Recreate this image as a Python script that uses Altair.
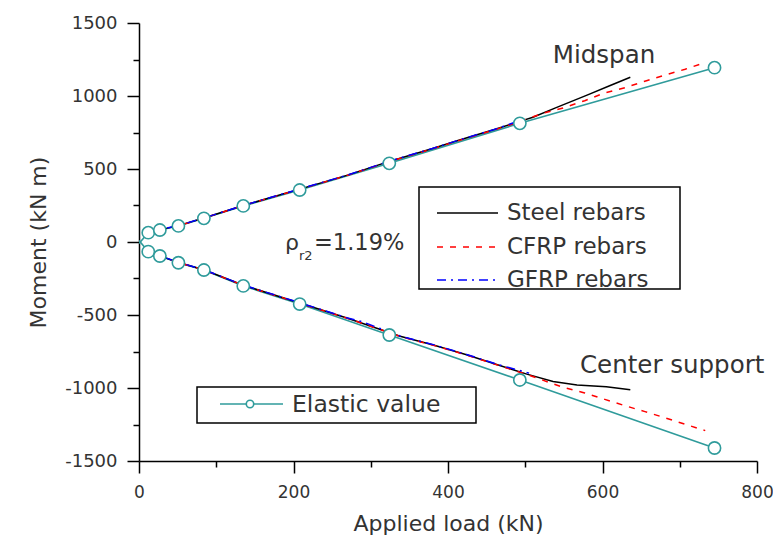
import altair as alt
import pandas as pd

# ---------------- data ----------------
# Midspan (positive moments); first point (load 0) has no marker
mid_elastic_load = [0, 12, 27, 51, 84, 135, 208, 324, 493, 745]
mid_elastic_mom = [-10, 64, 82, 110, 162, 247, 356, 539, 813, 1194]

mid_steel_load = [10, 27, 51, 84, 135, 208, 270, 324, 380, 416, 460, 493, 510, 540, 580, 610, 636]
mid_steel_mom = [60, 83, 112, 164, 250, 362, 458, 552, 640, 700, 770, 826, 854, 920, 1006, 1072, 1128]

mid_cfrp_load = [10, 27, 51, 84, 135, 208, 270, 324, 380, 416, 460, 493, 523, 549, 577, 601, 629, 657, 681, 707, 733]
mid_cfrp_mom = [60, 83, 112, 163, 250, 361, 457, 551, 639, 698, 768, 824, 882, 918, 968, 1018, 1057, 1105, 1144, 1183, 1230]

mid_gfrp_load = [10, 27, 51, 84, 135, 208, 270, 324, 380, 416, 460, 503]
mid_gfrp_mom = [61, 84, 113, 164, 251, 363, 459, 553, 641, 701, 771, 850]

# Center support (negative moments)
sup_elastic_load = [0, 12, 27, 51, 84, 135, 208, 324, 493, 745]
sup_elastic_mom = [10, -66, -96, -142, -192, -301, -425, -637, -945, -1411]

sup_steel_load = [10, 27, 51, 84, 135, 208, 270, 338, 381, 424, 467, 502, 536, 567, 605, 636]
sup_steel_mom = [-62, -95, -140, -190, -296, -418, -522, -645, -705, -772, -846, -905, -955, -979, -991, -1012]

sup_cfrp_load = [10, 27, 51, 84, 135, 208, 270, 338, 381, 424, 467, 502, 530, 549, 577, 603, 629, 655, 678, 705, 733]
sup_cfrp_mom = [-63, -95, -141, -191, -297, -419, -523, -647, -707, -774, -848, -907, -960, -995, -1034, -1078, -1121, -1162, -1199, -1245, -1292]

sup_gfrp_load = [10, 27, 51, 84, 135, 208, 270, 290, 338, 381, 424, 467, 505]
sup_gfrp_mom = [-62, -94, -139, -190, -295, -416, -520, -548, -644, -703, -770, -843, -898]

x_ticks = [0, 100, 200, 300, 400, 500, 600, 700, 800]
y_ticks = [-1500, -1250, -1000, -750, -500, -250, 0, 250, 500, 750, 1000, 1250, 1500]

# ---------------- build table ----------------
rows = []
def add(series, loc, loads, moms):
    for i, (l, m) in enumerate(zip(loads, moms)):
        rows.append({"series": series, "loc": loc, "load": l, "moment": m, "order": i})

add("Elastic", "mid", mid_elastic_load, mid_elastic_mom)
add("Elastic", "sup", sup_elastic_load, sup_elastic_mom)
add("Steel", "mid", mid_steel_load, mid_steel_mom)
add("Steel", "sup", sup_steel_load, sup_steel_mom)
add("CFRP", "mid", mid_cfrp_load, mid_cfrp_mom)
add("CFRP", "sup", sup_cfrp_load, sup_cfrp_mom)
add("GFRP", "mid", mid_gfrp_load, mid_gfrp_mom)
add("GFRP", "sup", sup_gfrp_load, sup_gfrp_mom)
df = pd.DataFrame(rows)

FONT = "DejaVu Sans"
TXT = "#333333"
TEAL = "#2f9b9b"

x_enc = alt.X(
    "load:Q",
    scale=alt.Scale(domain=[0, 800], nice=False, zero=False),
    axis=alt.Axis(
        title="Applied load (kN)",
        values=x_ticks,
        labelExpr="datum.value % 200 === 0 ? '' + datum.value : ''",
        tickSize={"condition": {"test": "datum.value % 200 === 0", "value": 12}, "value": 6},
        labelFlush=False,
        labelFontSize=17,
        labelPadding=11,
        titlePadding=13,
    ),
)
y_enc = alt.Y(
    "moment:Q",
    scale=alt.Scale(domain=[-1500, 1500], nice=False, zero=False),
    axis=alt.Axis(
        title="Moment (kN m)",
        values=y_ticks,
        labelExpr="datum.value % 500 === 0 ? '' + datum.value : ''",
        tickSize={"condition": {"test": "datum.value % 500 === 0", "value": 12}, "value": 6},
        labelFlush=False,
        labelPadding=10,
        titlePadding=14,
    ),
)

base = alt.Chart(df)

elastic_line = base.transform_filter("datum.series == 'Elastic'").mark_line(
    color=TEAL, strokeWidth=1.6, clip=True
).encode(x=x_enc, y=y_enc, detail="loc:N", order="order:Q")

def rebar(series, color, dash):
    kw = dict(color=color, strokeWidth=1.5)
    if dash:
        kw["strokeDash"] = dash
    return base.transform_filter(f"datum.series == '{series}'").mark_line(**kw).encode(
        x=x_enc, y=y_enc, detail="loc:N", order="order:Q"
    )

steel = rebar("Steel", "#000000", None)
cfrp = rebar("CFRP", "#ff0000", [6, 7])
gfrp = rebar("GFRP", "#0000ff", [9, 5, 2, 5])

elastic_pts = base.transform_filter("datum.series == 'Elastic' && datum.load > 0").mark_point(
    shape="circle", filled=True, fill="white", stroke=TEAL, strokeWidth=1.6, size=150, opacity=1
).encode(x=x_enc, y=y_enc)

one = alt.Data(values=[{}])
OX, OY = 139, 23  # plot-area origin in page pixels


def txt(text, x, y, size, align="left", baseline="middle"):
    return alt.Chart(one).mark_text(
        text=text, font=FONT, fontSize=size, color=TXT, align=align, baseline=baseline
    ).encode(x=alt.value(x - OX), y=alt.value(y - OY))


def box(x1, y1, x2, y2):
    return alt.Chart(one).mark_rect(fill="white", stroke="#000000", strokeWidth=1.5).encode(
        x=alt.value(x1 - OX), x2=alt.value(x2 - OX), y=alt.value(y1 - OY), y2=alt.value(y2 - OY)
    )


def seg(x1, x2, y, color, dash=None, width=1.5):
    kw = dict(color=color, strokeWidth=width)
    if dash:
        kw["strokeDash"] = dash
    return alt.Chart(one).mark_rule(**kw).encode(
        x=alt.value(x1 - OX), x2=alt.value(x2 - OX), y=alt.value(y - OY)
    )


ann = [
    txt("Midspan", 604, 56, 24.5, align="center"),
    txt("Center support", 580, 366, 24.5),
    txt("ρ", 285, 243, 22),
    txt("r2", 299, 256, 13),
    txt("=1.19%", 314, 243, 22.5),
]

leg1 = [
    box(419, 187, 680, 289),
    seg(437, 498, 213, "#000000"),
    seg(437, 498, 247, "#ff0000", [6, 7]),
    seg(437, 498, 280, "#0000ff", [9, 5, 2, 5]),
    txt("Steel rebars", 507, 213, 23),
    txt("CFRP rebars", 507, 247, 23),
    txt("GFRP rebars", 507, 280, 23),
]

leg2 = [
    box(197, 387, 476, 423),
    seg(220, 283, 404, TEAL, width=1.6),
    alt.Chart(one).mark_point(shape="circle", filled=True, fill="white", stroke=TEAL,
                              strokeWidth=1.6, size=55, opacity=1).encode(
        x=alt.value(250 - OX), y=alt.value(404 - OY)),
    txt("Elastic value", 292, 405, 23.5),
]

chart = alt.layer(
    elastic_line, steel, cfrp, gfrp, elastic_pts, *ann, *leg1, *leg2
).properties(
    width=618,
    height=438,
    autosize=alt.AutoSizeParams(type="none"),
    padding={"left": 139, "top": 23, "right": 16, "bottom": 84},
    background="white",
).configure_view(stroke=None).configure_axis(
    grid=False,
    domainColor="#000000",
    domainWidth=1.5,
    tickColor="#000000",
    tickWidth=1.5,
    labelFont=FONT,
    labelFontSize=18,
    labelColor=TXT,
    titleFont=FONT,
    titleFontSize=22,
    titleColor=TXT,
    titleFontWeight="normal",
)

chart.save("out.html", embed_options={"renderer": "svg", "actions": False})
